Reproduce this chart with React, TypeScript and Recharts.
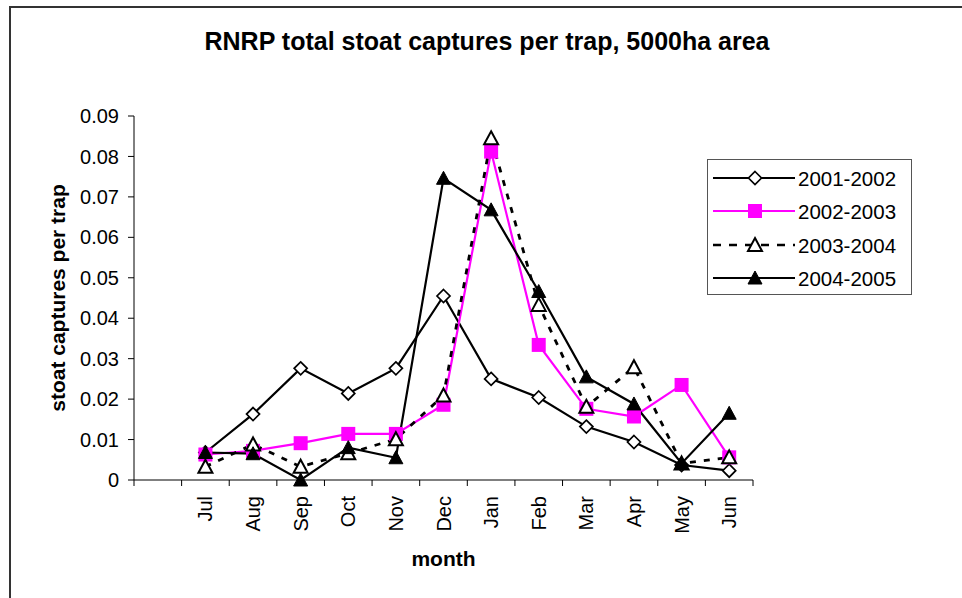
import React from 'react';
import { LineChart, Line, XAxis, YAxis, Legend, Label } from 'recharts';

const MONTHS = ['Jul', 'Aug', 'Sep', 'Oct', 'Nov', 'Dec', 'Jan', 'Feb', 'Mar', 'Apr', 'May', 'Jun'];
const S_2001_2002 = [0.0068, 0.0163, 0.0276, 0.0214, 0.0276, 0.0455, 0.025, 0.0204, 0.0132, 0.0094, 0.0037, 0.0023];
const S_2002_2003 = [0.0063, 0.0072, 0.0091, 0.0114, 0.0114, 0.0186, 0.0812, 0.0334, 0.0176, 0.0157, 0.0235, 0.0056];
const S_2003_2004 = [0.0033, 0.0088, 0.0033, 0.0066, 0.0101, 0.0209, 0.0845, 0.0433, 0.0181, 0.0279, 0.0041, 0.0056];
const S_2004_2005 = [0.0068, 0.0065, 0.0, 0.008, 0.0055, 0.0746, 0.0668, 0.0466, 0.0255, 0.0188, 0.0041, 0.0165];
const SERIES_NAMES = ['2001-2002', '2002-2003', '2003-2004', '2004-2005'];
const Y_TICKS = [0, 0.01, 0.02, 0.03, 0.04, 0.05, 0.06, 0.07, 0.08, 0.09];
const TITLE = 'RNRP total stoat captures per trap, 5000ha area';
const X_TITLE = 'month';
const Y_TITLE = 'stoat captures per trap';

// one empty leading category, then the 12 months
const CATEGORY_COUNT = MONTHS.length + 1;
const BOUNDARY_TICKS = Array.from({ length: CATEGORY_COUNT + 1 }, (_, i) => i);

const data = MONTHS.map((m, i) => ({
  pos: i + 1.5,
  month: m,
  a: S_2001_2002[i],
  b: S_2002_2003[i],
  c: S_2003_2004[i],
  d: S_2004_2005[i],
}));

const W = 962;
const H = 598;
const MARGIN = { top: 116, right: 209, left: 54, bottom: 68 };
const Y_AXIS_W = 80;
const X_AXIS_H = 50;
const PLOT_W = W - MARGIN.left - Y_AXIS_W - MARGIN.right;
const BAND = PLOT_W / CATEGORY_COUNT;
const FONT = '"Liberation Sans", Arial, Helvetica, sans-serif';
const MAGENTA = '#FF00FF';

type Kind = 'diamond' | 'square' | 'openTri' | 'filledTri';

function Marker({ kind, cx, cy }: { kind: Kind; cx: number; cy: number }) {
  if (cx == null || cy == null || isNaN(cx) || isNaN(cy)) return null;
  if (kind === 'diamond') {
    return (
      <path
        d={`M${cx},${cy - 6.5} L${cx + 6.5},${cy} L${cx},${cy + 6.5} L${cx - 6.5},${cy} Z`}
        fill="#fff"
        stroke="#000"
        strokeWidth={1.7}
      />
    );
  }
  if (kind === 'square') {
    return <rect x={cx - 7} y={cy - 7} width={14} height={14} fill={MAGENTA} />;
  }
  const filled = kind === 'filledTri';
  return (
    <path
      d={`M${cx},${cy - 7} L${cx + 7},${cy + 6} L${cx - 7},${cy + 6} Z`}
      fill={filled ? '#000' : '#fff'}
      stroke="#000"
      strokeWidth={filled ? 1 : 2}
      strokeLinejoin="miter"
    />
  );
}

const SERIES: { key: string; name: string; kind: Kind; color: string; dash?: string }[] = [
  { key: 'a', name: SERIES_NAMES[0], kind: 'diamond', color: '#000' },
  { key: 'b', name: SERIES_NAMES[1], kind: 'square', color: MAGENTA },
  { key: 'c', name: SERIES_NAMES[2], kind: 'openTri', color: '#000', dash: '6 8' },
  { key: 'd', name: SERIES_NAMES[3], kind: 'filledTri', color: '#000' },
];

function MonthTick(props: any) {
  const { x, y, payload } = props;
  const v = payload?.value;
  if (v < 1 || v > MONTHS.length) return null;
  const cx = x + BAND / 2;
  const ty = y;
  return (
    <text
      x={cx}
      y={ty}
      transform={`rotate(-90, ${cx}, ${ty})`}
      textAnchor="end"
      dominantBaseline="central"
      fontFamily={FONT}
      fontSize={20}
      fill="#000"
    >
      {MONTHS[v - 1]}
    </text>
  );
}

function LegendBox() {
  const rowY = [19, 52, 86, 119];
  return (
    <svg width={206} height={137} style={{ display: 'block' }}>
      <rect x={0.5} y={0.5} width={204} height={135} fill="#fff" stroke="#555" strokeWidth={1} />
      {SERIES.map((s, i) => (
        <g key={s.key}>
          <line
            x1={6}
            x2={88}
            y1={rowY[i]}
            y2={rowY[i]}
            stroke={s.color}
            strokeWidth={s.dash ? 2.5 : 2}
            strokeDasharray={s.dash ? '8 8' : undefined}
          />
          <Marker kind={s.kind} cx={48} cy={rowY[i]} />
          <text
            x={91}
            y={rowY[i]}
            dominantBaseline="central"
            fontFamily={FONT}
            fontSize={20.5}
            fill="#000"
          >
            {s.name}
          </text>
        </g>
      ))}
    </svg>
  );
}

export default function App() {
  return (
    <div
      style={{
        position: 'absolute',
        left: 0,
        top: 0,
        width: W,
        height: H,
        overflow: 'hidden',
        background: '#fff',
        fontFamily: FONT,
      }}
    >
      <div
        style={{
          position: 'absolute',
          left: 9,
          top: 6,
          width: 2000,
          height: 2000,
          borderLeft: '2px solid #333',
          borderTop: '2px solid #333',
        }}
      />
      <div
        style={{
          position: 'absolute',
          left: 0,
          width: 974,
          top: 29,
          textAlign: 'center',
          fontSize: 25,
          lineHeight: '25px',
          fontWeight: 'bold',
          color: '#000',
          whiteSpace: 'nowrap',
        }}
      >
        {TITLE}
      </div>
      <div style={{ position: 'absolute', left: 0, top: 0 }}>
        <LineChart width={W} height={H} data={data} margin={MARGIN}>
          <XAxis
            dataKey="pos"
            type="number"
            domain={[0, CATEGORY_COUNT]}
            ticks={BOUNDARY_TICKS}
            interval={0}
            height={X_AXIS_H}
            tickSize={6}
            tickMargin={10}
            axisLine={{ stroke: '#000', strokeWidth: 1 }}
            tickLine={{ stroke: '#000', strokeWidth: 1 }}
            tick={<MonthTick />}
          >
            <Label
              content={() => (
                <text
                  x={MARGIN.left + Y_AXIS_W + PLOT_W / 2}
                  y={566}
                  textAnchor="middle"
                  fontFamily={FONT}
                  fontSize={21}
                  fontWeight="bold"
                  fill="#000"
                >
                  {X_TITLE}
                </text>
              )}
            />
          </XAxis>
          <YAxis
            type="number"
            domain={[0, 0.09]}
            ticks={Y_TICKS}
            interval={0}
            width={Y_AXIS_W}
            tickSize={6}
            tickMargin={9}
            axisLine={{ stroke: '#000', strokeWidth: 1 }}
            tickLine={{ stroke: '#000', strokeWidth: 1 }}
            tick={{ fontFamily: FONT, fontSize: 20, fill: '#000' }}
            tickFormatter={(v: number) => (v === 0 ? '0' : v.toFixed(2))}
          >
            <Label
              content={() => (
                <text
                  x={57}
                  y={298}
                  transform="rotate(-90, 57, 298)"
                  textAnchor="middle"
                  dominantBaseline="central"
                  fontFamily={FONT}
                  fontSize={21}
                  fontWeight="bold"
                  fill="#000"
                >
                  {Y_TITLE}
                </text>
              )}
            />
          </YAxis>
          <Legend
            layout="vertical"
            align="center"
            verticalAlign="middle"
            wrapperStyle={{ position: 'absolute', left: 707, top: 159, width: 206, height: 137 }}
            content={() => <LegendBox />}
          />
          {SERIES.map((s) => (
            <Line
              key={s.key}
              dataKey={s.key}
              name={s.name}
              type="linear"
              stroke={s.color}
              strokeWidth={s.dash ? 2.8 : 2.2}
              strokeDasharray={s.dash}
              isAnimationActive={false}
              dot={(p: any) => <Marker key={`${s.key}-${p.index}`} kind={s.kind} cx={p.cx} cy={p.cy} />}
              activeDot={false}
            />
          ))}
        </LineChart>
      </div>
    </div>
  );
}
